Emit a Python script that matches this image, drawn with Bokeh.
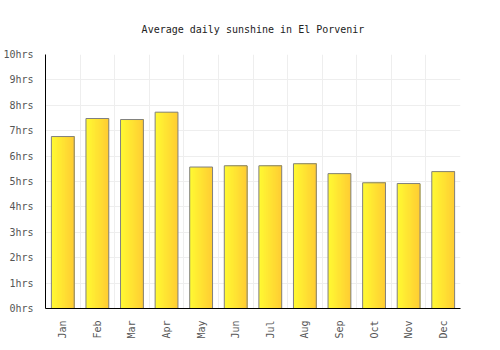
import math
from bokeh.plotting import figure
from bokeh.models import Range1d, FixedTicker, PrintfTickFormatter, ColumnDataSource
from bokeh.embed import file_html
from bokeh.resources import INLINE

months = ["Jan", "Feb", "Mar", "Apr", "May", "Jun", "Jul", "Aug", "Sep", "Oct", "Nov", "Dec"]
sunshine = [6.77, 7.48, 7.44, 7.73, 5.57, 5.62, 5.62, 5.70, 5.31, 4.95, 4.92, 5.39]
y_ticks = [0, 1, 2, 3, 4, 5, 6, 7, 8, 9, 10]

FONT = "DejaVu Sans Mono"
BAR_W = 0.66
N_SLICES = 20
C_LEFT = (255, 250, 51)
C_RIGHT = (255, 204, 51)

p = figure(width=500, height=350, output_backend="svg", toolbar_location=None,
           x_range=Range1d(0.5, 12.5), y_range=Range1d(0, 10),
           min_border_left=40, min_border_right=40, min_border_top=54, min_border_bottom=42,
           title="Average daily sunshine in El Porvenir")

# gradient-filled bars: overlapping strips, each running to the bar's right edge
lefts, rights, tops, cols = [], [], [], []
sw = BAR_W / N_SLICES
for i, v in enumerate(sunshine):
    right_edge = i + 1 + BAR_W / 2
    for k in range(N_SLICES):
        t = (k + 0.5) / N_SLICES
        c = tuple(int(round(a + (b - a) * t)) for a, b in zip(C_LEFT, C_RIGHT))
        lefts.append(i + 1 - BAR_W / 2 + k * sw)
        rights.append(right_edge)
        tops.append(v)
        cols.append("#%02x%02x%02x" % c)
p.quad(left=lefts, right=rights, top=tops, bottom=0, fill_color=cols, line_color=None)

src = ColumnDataSource(dict(x=list(range(1, 13)), top=sunshine))
p.vbar(x="x", top="top", bottom=0, width=BAR_W, source=src,
       fill_color=None, line_color="#808080", line_width=1)

p.title.align = "center"
p.title.text_font = FONT
p.title.text_font_size = "10px"
p.title.text_font_style = "normal"
p.title.text_color = "#222222"
p.title.standoff = 40

p.outline_line_color = None
p.background_fill_color = "white"

p.xaxis.ticker = FixedTicker(ticks=list(range(1, 13)))
p.xaxis.major_label_overrides = {i + 1: m for i, m in enumerate(months)}
p.xaxis.major_label_orientation = math.pi / 2
p.yaxis.ticker = FixedTicker(ticks=y_ticks)
p.yaxis.formatter = PrintfTickFormatter(format="%dhrs")

for ax in (p.xaxis, p.yaxis):
    ax.major_label_text_font = FONT
    ax.major_label_text_font_size = "10px"
    ax.major_label_text_color = "#555555"
    ax.major_tick_line_color = None
    ax.minor_tick_line_color = None
    ax.axis_line_color = "#000000"
    ax.axis_line_width = 1
    ax.major_label_standoff = 6

p.xgrid.ticker = FixedTicker(ticks=[i + 0.5 for i in range(13)])
p.xgrid.grid_line_color = "#eeeeee"
p.ygrid.ticker = FixedTicker(ticks=y_ticks)
p.ygrid.grid_line_color = "#eeeeee"

open("out.html", "w").write(file_html(p, INLINE))
